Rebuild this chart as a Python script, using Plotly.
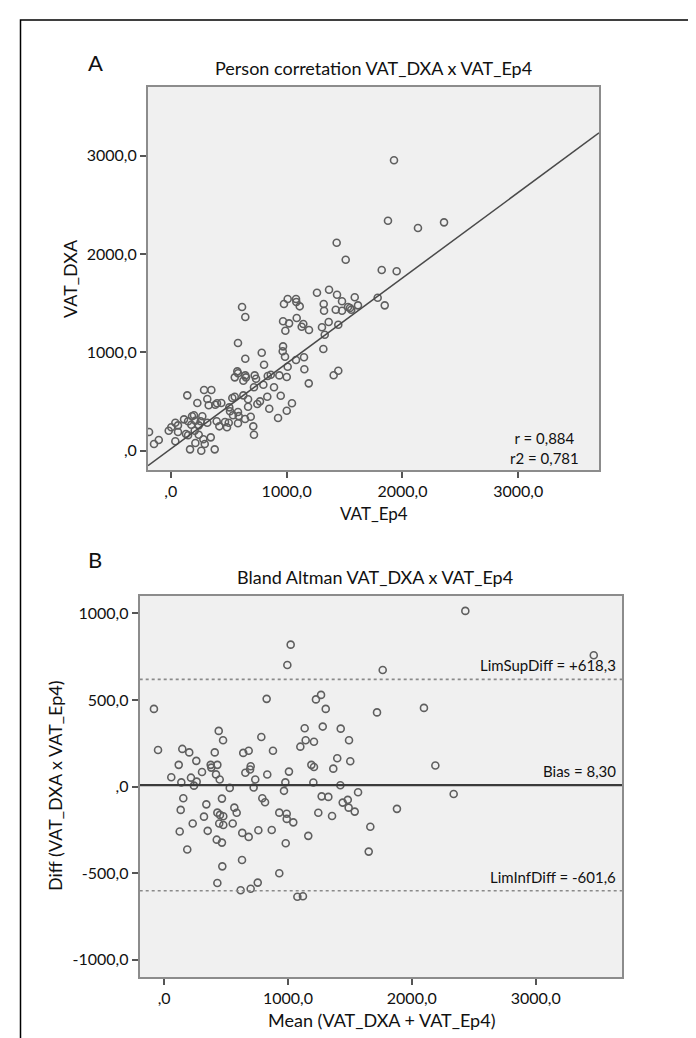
import plotly.graph_objects as go

W, H = 696, 1038

# ---------------- Panel A data: VAT_Ep4 (x) vs VAT_DXA (y) ----------------
vat_ep4 = [1927, 1875, 2134, 2359, 1432, 1510, 1821, 1950, 1366, 1262, 1435, 1588, 1786, 1478,
           1009, 1081, 1084, 977, 1320, 1847, 615, 1113, 1530, 1616, 1323, 1424, 643, 969, 1021,
           1087, 1144, 1130, 1193, 989, 1305, 1363, 1446, 1329, 580, 969, 966, 986, 785, 643, 805,
           1081, 1150, 1317, 1009, 1153, 1446, 1406, 574, 552, 643, 724, 736, 837, 863, 937, 1001,
           626, 718, 799, 1191, 891, 552, 626, 142, 287, 350, 315, 384, 436, 229, 531, 667, 833,
           949, 770, 747, 667, 505, 1046, 850, 1001, 926, 511, 537, 690, 712, 718, 580, 500, 419,
           485, 396, 272, 200, 114, 258, 177, 315, 62, 39, -18, 62, 131, 206, 281, 345, 39, 212,
           293, 263, 166, 379, -188, -145, -104, 1547, 580, 586, 327, 399, 183, 212, 149, 241, 4,
           149, 241, 649, 580, 468, 641, 1478, 1558]
vat_dxa = [2952, 2337, 2263, 2321, 2114, 1941, 1836, 1823, 1636, 1605, 1585, 1559, 1555, 1518,
           1541, 1541, 1511, 1490, 1490, 1477, 1460, 1467, 1460, 1477, 1422, 1433, 1358, 1315, 1294,
           1348, 1287, 1260, 1226, 1219, 1254, 1307, 1280, 1178, 1094, 1060, 1010, 955, 995, 934, 873,
           921, 949, 1033, 853, 827, 812, 766, 806, 745, 765, 765, 731, 758, 772, 765, 748,
           711, 644, 670, 684, 644, 548, 562, 562, 616, 616, 525, 467, 484, 484, 535, 522, 548,
           558, 501, 474, 446, 440, 481, 426, 406, 331, 400, 359, 345, 247, 162, 278, 284, 247,
           237, 298, 349, 359, 318, 298, 263, 284, 257, 284, 202, 189, 169, 202, 115, 135, 95, 77,
           67, -1, 13, 13, 189, 67, 108, 1450, 392, 351, 461, 481, 349, 304, 298, 257, 237,
           156, 162, 745, 786, 291, 321, 1422, 1433]
fit_intercept = 17.6
fit_slope = 0.869
r_text = "r = 0,884"
r2_text = "r2 = 0,781"

# ---------------- Panel B data: Bland-Altman ----------------
ba_mean = [1022, 995, 1765, -82, 828, 1226, 1267, 1305, 1719, 2098, 441, 476, 785, 1135, 1281,
           1426, 1143, 1210, 1493, 1100, -49, 147, 203, 409, 639, 683, 879, 260, 118, 376, 381,
           430, 699, 694, 306, 58, 217, 263, 139, 241, 419, 449, 656, 736, 833, 1008, 979, 1189,
           1210, 1398, 1366, 1503, 1205, 1423, 530, 723, 968, 1566, 155, 467, 793, 815, 1272,
           1326, 1442, 1483, 1490, 1539, 1880, 2190, 134, 341, 567, 586, 322, 430, 451, 478, 445,
           478, 554, 231, 126, 352, 425, 467, 631, 683, 761, 869, 930, 990, 990, 1043, 982, 1164,
           1245, 1356, 1665, 1652, 187, 470, 629, 930, 430, 756, 618, 699, 1076, 1121, 2432,
           3469, 2338]
ba_diff = [819, 702, 673, 448, 506, 503, 529, 448, 428, 454, 321, 267, 286, 336, 346,
           334, 267, 258, 267, 230, 211, 217, 197, 197, 194, 206, 206, 148, 125, 125, 109,
           125, 117, 98, 84, 53, 51, 28, 24, 5, 70, 40, 79, 40, 69, 86, 24, 125,
           113, 163, 103, 146, 23, 7, -8, -6, -25, -33, -68, -70, -68, -91, -57,
           -60, -93, -77, -122, -145, -129, 121, -135, -103, -122, -152, -174, -151, -164, -172, -214,
           -222, -214, -214, -260, -256, -307, -324, -268, -291, -253, -251, -151, -157, -187, -207, -328, -285,
           -152, -170, -232, -376, -364, -461, -424, -501, -557, -555, -599, -590, -637, -634, 1014,
           758, -43]
bias = 8.30
lim_sup = 618.3
lim_inf = -601.6
bias_text = "Bias = 8,30"
sup_text = "LimSupDiff = +618,3"
inf_text = "LimInfDiff = -601,6"

xy_range = [-197, 3697]
ba_y_range = [-1100, 1100]
tick_vals = [0, 1000, 2000, 3000]
tick_text = [",0", "1000,0", "2000,0", "3000,0"]
ba_ytick_vals = [-1000, -500, 0, 500, 1000]
ba_ytick_text = ["-1000,0", "-500,0", ",0", "500,0", "1000,0"]

FONT = "Lato"
MK = dict(symbol="circle-open", size=7, color="#5f5f5f", line=dict(width=1.6, color="#5f5f5f"))


def px(x):
    return x / W


def py(y):
    return 1 - y / H


fig = go.Figure()
fig.add_trace(go.Scatter(x=vat_ep4, y=vat_dxa, mode="markers", marker=MK,
                         xaxis="x", yaxis="y", showlegend=False))
fig.add_trace(go.Scatter(x=xy_range, y=[fit_intercept + fit_slope * v for v in xy_range],
                         mode="lines", line=dict(color="#4a4a4a", width=1.5),
                         xaxis="x", yaxis="y", showlegend=False))

fig.add_trace(go.Scatter(x=ba_mean, y=ba_diff, mode="markers", marker=MK,
                         xaxis="x2", yaxis="y2", showlegend=False))
for val, dash, col, wd in [(lim_sup, "dot", "#8a8a8a", 1.6), (bias, "solid", "#3a3a3a", 2.2),
                           (lim_inf, "dot", "#8a8a8a", 1.6)]:
    fig.add_trace(go.Scatter(x=xy_range, y=[val, val], mode="lines",
                             line=dict(color=col, width=wd, dash=dash),
                             xaxis="x2", yaxis="y2", showlegend=False))

axis_common = dict(showgrid=False, zeroline=False, showline=True, linecolor="#8c8c8c",
                   linewidth=2, mirror=True, ticks="outside", ticklen=6, tickwidth=1.5,
                   tickcolor="#555", tickfont=dict(family=FONT, size=16, color="#111"),
                   fixedrange=True)

fig.update_layout(
    width=W, height=H, margin=dict(l=0, r=0, t=0, b=0),
    paper_bgcolor="white", plot_bgcolor="#f0f0f0",
    font=dict(family=FONT, color="#111"),
    xaxis=dict(domain=[px(140), px(591)], anchor="y", range=xy_range,
               tickvals=tick_vals, ticktext=tick_text, **axis_common),
    yaxis=dict(domain=[py(462), py(79)], anchor="x", range=xy_range,
               tickvals=tick_vals, ticktext=tick_text, **axis_common),
    xaxis2=dict(domain=[px(131.7), px(614)], anchor="y2", range=xy_range,
                tickvals=tick_vals, ticktext=tick_text, **axis_common),
    yaxis2=dict(domain=[py(969), py(588)], anchor="x2", range=ba_y_range,
                tickvals=ba_ytick_vals, ticktext=ba_ytick_text, **axis_common),
)

ann = []


def txt(text, x, y, size, **kw):
    d = dict(text=text, x=px(x), y=py(y), xref="paper", yref="paper", showarrow=False,
             font=dict(family=FONT, size=size, color="#111"), xanchor="center", yanchor="middle")
    d.update(kw)
    ann.append(d)


txt("A", 87, 54, 22)
txt("Person corretation VAT_DXA x VAT_Ep4", 365, 60, 18)
txt("VAT_Ep4", 366, 505, 17)
txt("VAT_DXA", 62, 271, 18, textangle=-90)
txt(r_text + "<br>" + r2_text, 536, 440, 15)

txt("B", 87, 551, 22)
txt("Bland Altman VAT_DXA x VAT_Ep4", 367, 569, 18)
txt("Mean (VAT_DXA + VAT_Ep4)", 373, 1012, 18)
txt("Diff (VAT_DXA x VAT_Ep4)", 47, 778, 18, textangle=-90)

for val, t in [(lim_sup, sup_text), (bias, bias_text), (lim_inf, inf_text)]:
    ann.append(dict(text=t, x=1, y=val, xref="x2 domain", yref="y2", showarrow=False,
                    xanchor="right", yanchor="bottom", xshift=-4, yshift=3,
                    font=dict(family=FONT, size=15, color="#111")))

fig.update_layout(annotations=ann)

fig.add_shape(type="rect", xref="paper", yref="paper", x0=px(12.5), x1=px(683.5),
              y0=-0.05, y1=py(12), line=dict(color="black", width=1.5), fillcolor="rgba(0,0,0,0)")

fig.write_html("out.html")
